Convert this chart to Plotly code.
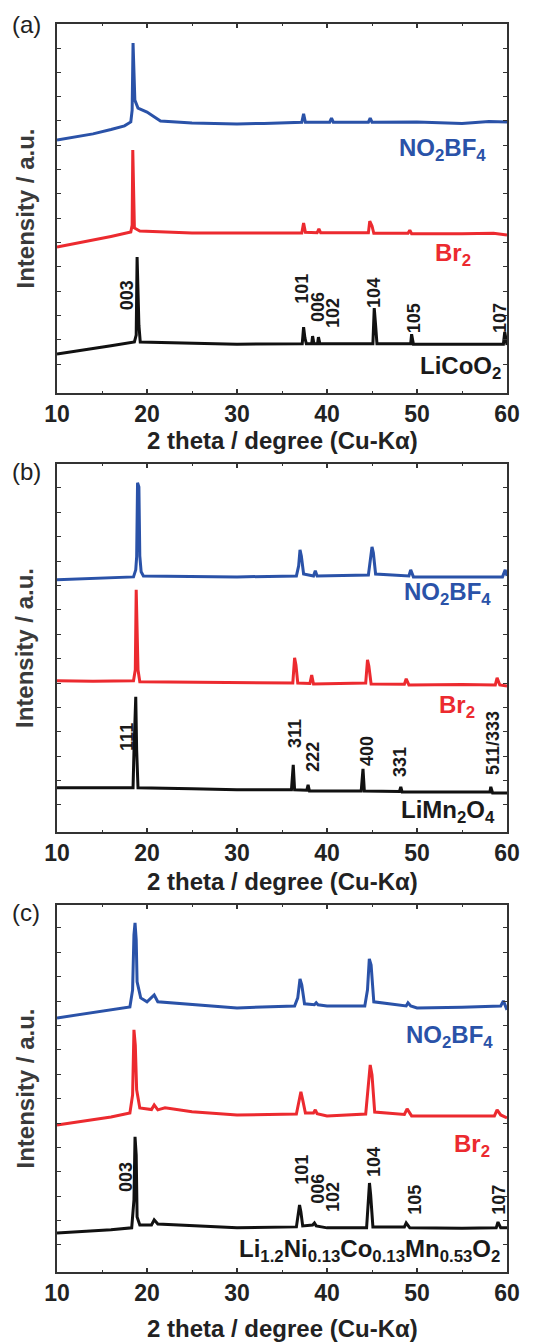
import plotly.graph_objects as go

# ---------------- data (2theta in degree, intensity in a.u. offset units) ----------------
# Panel (a): LiCoO2
a_blue_x = [10, 12, 14, 16, 17.5, 18.2, 18.35, 18.45, 18.55, 18.65, 19.0, 19.5, 20.0, 20.7, 21.5, 25, 30, 33, 37.2, 37.4, 37.6, 40.3, 40.5, 40.7, 44.6, 44.8, 45.0, 50, 55, 58, 60]
a_blue_y = [9.22, 9.35, 9.47, 9.65, 9.8, 9.96, 10.45, 13.21, 12.1, 10.86, 10.53, 10.45, 10.37, 10.2, 10.0, 9.92, 9.88, 9.9, 9.95, 10.29, 9.95, 9.95, 10.12, 9.95, 9.95, 10.12, 9.95, 9.96, 9.9, 9.98, 9.96]

a_red_x = [10, 12, 14, 16, 18.2, 18.35, 18.42, 18.5, 18.6, 19.2, 25, 30, 37.2, 37.4, 37.6, 38.9, 39.1, 39.3, 44.6, 44.75, 45.0, 45.2, 49.0, 49.2, 49.4, 55, 58.5, 60]
a_red_y = [4.81, 4.95, 5.10, 5.25, 5.43, 5.72, 8.81, 7.78, 5.60, 5.47, 5.39, 5.39, 5.39, 5.80, 5.42, 5.40, 5.56, 5.40, 5.40, 5.88, 5.68, 5.38, 5.38, 5.51, 5.36, 5.36, 5.38, 5.31]

a_black_x = [10, 12, 14, 16, 18.6, 18.8, 18.9, 19.0, 19.1, 19.25, 25, 30, 37.25, 37.4, 37.55, 37.7, 38.3, 38.4, 38.55, 38.95, 39.05, 39.2, 45.1, 45.25, 45.4, 45.55, 49.3, 49.4, 49.6, 59.6, 59.75, 60]
a_black_y = [0.41, 0.52, 0.62, 0.75, 0.91, 1.19, 4.40, 2.63, 1.60, 0.91, 0.86, 0.82, 0.84, 1.52, 1.07, 0.84, 0.84, 1.15, 0.84, 0.84, 1.11, 0.84, 0.84, 2.30, 1.60, 0.84, 0.84, 1.23, 0.82, 0.82, 1.32, 0.78]

a_hkl = ["003", "101", "006", "102", "104", "105", "107"]
a_hkl_x = [17.8, 37.2, 39.0, 40.67, 45.2, 49.67, 59.2]
a_hkl_y = [2.84, 3.09, 2.35, 2.10, 2.92, 1.89, 1.89]

# Panel (b): LiMn2O4
b_blue_x = [10, 14, 18.5, 18.75, 18.85, 18.95, 19.1, 19.2, 19.35, 19.6, 25, 30, 36.6, 36.85, 37.0, 37.15, 37.4, 38.5, 38.7, 38.9, 44.6, 44.85, 45.0, 45.15, 45.4, 49.1, 49.3, 49.6, 55, 59.5, 59.8, 60]
b_blue_y = [9.23, 9.28, 9.35, 9.64, 10.17, 13.21, 13.04, 10.21, 9.56, 9.39, 9.37, 9.35, 9.39, 9.80, 10.46, 10.21, 9.47, 9.39, 9.60, 9.39, 9.43, 10.05, 10.58, 10.34, 9.47, 9.39, 9.64, 9.35, 9.36, 9.35, 9.64, 9.39]

b_red_x = [10, 14, 18.5, 18.7, 18.8, 18.9, 19.0, 19.2, 25, 30, 36.2, 36.4, 36.55, 36.75, 38.1, 38.3, 38.5, 44.3, 44.5, 44.65, 44.9, 48.6, 48.8, 49.1, 55, 58.7, 58.9, 59.2, 60]
b_red_y = [5.09, 5.07, 5.09, 5.54, 8.82, 7.59, 5.54, 5.05, 5.03, 5.00, 5.00, 6.03, 5.74, 5.00, 4.98, 5.33, 4.96, 5.00, 5.95, 5.70, 4.96, 4.95, 5.17, 4.92, 4.94, 4.92, 5.21, 4.92, 4.88]

b_black_x = [10, 14, 18.45, 18.55, 18.75, 18.85, 19.0, 25, 30, 36.05, 36.15, 36.25, 36.4, 37.75, 37.9, 38.05, 43.8, 43.9, 44.0, 44.15, 48.05, 48.2, 48.35, 55, 58.1, 58.2, 58.4, 60]
b_black_y = [0.70, 0.70, 0.70, 2.17, 4.43, 2.26, 0.70, 0.66, 0.62, 0.62, 1.23, 1.64, 0.62, 0.60, 0.82, 0.57, 0.57, 1.23, 1.48, 0.57, 0.55, 0.74, 0.53, 0.53, 0.53, 0.74, 0.49, 0.49]

b_hkl = ["111", "311", "222", "400", "331", "511/333"]
b_hkl_x = [17.78, 36.44, 38.44, 44.44, 48.11, 58.44]
b_hkl_y = [2.79, 2.95, 1.97, 2.21, 1.76, 2.54]

# Panel (c): Li1.2Ni0.13Co0.13Mn0.53O2
c_blue_x = [10, 12, 14, 16, 18.1, 18.4, 18.55, 18.67, 18.8, 18.9, 19.3, 20.0, 20.8, 21.2, 23, 25, 30, 36.4, 36.75, 37.0, 37.2, 37.5, 38.6, 38.8, 39.0, 40, 44.2, 44.5, 44.7, 44.9, 45.2, 48.8, 49.0, 49.3, 50, 55, 59.3, 59.6, 60]
c_blue_y = [9.31, 9.42, 9.52, 9.62, 9.76, 10.46, 12.72, 13.21, 12.51, 10.79, 10.13, 9.97, 10.25, 9.97, 9.92, 9.84, 9.72, 9.80, 10.13, 10.91, 10.66, 9.89, 9.85, 9.93, 9.85, 9.80, 9.80, 10.46, 11.73, 11.48, 9.97, 9.80, 9.93, 9.80, 9.72, 9.75, 9.80, 10.01, 9.64]

c_red_x = [10, 12, 14, 16, 18.1, 18.4, 18.55, 18.7, 18.85, 19.2, 20.5, 20.8, 21.2, 22, 25, 30, 36.6, 36.9, 37.1, 37.3, 37.6, 38.5, 38.7, 38.9, 40, 44.3, 44.6, 44.8, 45.0, 45.3, 48.6, 48.9, 49.4, 55, 58.6, 58.9, 59.3, 60]
c_red_y = [4.92, 5.02, 5.13, 5.25, 5.41, 6.15, 8.82, 8.20, 6.36, 5.62, 5.55, 5.74, 5.54, 5.62, 5.46, 5.33, 5.37, 5.95, 6.28, 5.95, 5.41, 5.41, 5.54, 5.38, 5.29, 5.37, 6.56, 7.38, 6.97, 5.45, 5.35, 5.58, 5.29, 5.28, 5.29, 5.54, 5.33, 5.21]

c_black_x = [10, 12, 14, 16, 18.3, 18.55, 18.67, 18.8, 18.9, 19.2, 20.5, 20.8, 21.2, 25, 30, 36.6, 36.8, 36.95, 37.1, 37.3, 38.4, 38.6, 38.8, 40, 44.4, 44.6, 44.72, 44.85, 45.1, 48.6, 48.8, 49.2, 55, 58.8, 59.0, 59.3, 60]
c_black_y = [0.49, 0.53, 0.57, 0.62, 0.70, 1.85, 4.43, 3.69, 1.15, 0.82, 0.82, 1.03, 0.86, 0.78, 0.70, 0.74, 1.23, 1.64, 1.35, 0.78, 0.82, 0.90, 0.78, 0.70, 0.70, 1.85, 2.54, 2.05, 0.74, 0.74, 0.90, 0.70, 0.68, 0.70, 0.94, 0.70, 0.70]

c_hkl = ["003", "101", "006", "102", "104", "105", "107"]
c_hkl_x = [17.67, 37.22, 39.0, 40.67, 45.22, 49.78, 59.11]
c_hkl_y = [2.79, 3.08, 2.30, 1.97, 3.40, 1.85, 1.85]

series_names = ["NO<sub>2</sub>BF<sub>4</sub>", "Br<sub>2</sub>"]
sample_names = ["LiCoO<sub>2</sub>", "LiMn<sub>2</sub>O<sub>4</sub>",
                "Li<sub>1.2</sub>Ni<sub>0.13</sub>Co<sub>0.13</sub>Mn<sub>0.53</sub>O<sub>2</sub>"]
panel_tags = ["(a)", "(b)", "(c)"]
x_ticks = [10, 20, 30, 40, 50, 60]
y_ticks = list(range(0, 14))

# label anchors (x = right edge in 2theta, y = centre in a.u.)
name_x = [[57.9, 56.2, 59.6], [58.4, 56.7, 58.9], [58.7, 58.3, 59.4]]
name_y = [[8.81, 4.49, -0.16], [8.65, 4.02, -0.25], [8.53, 4.06, -0.21]]

# ---------------- styling / layout ----------------
W, H = 536, 1343
BLUE = "#2a52a8"
RED = "#ec2a2f"
BLACK = "#111111"
AX = "#333333"
FONT = "Liberation Sans, Arial, sans-serif"

x_left, x_right = 57, 507
panels_px = [(24, 393), (464, 832), (905, 1272)]
y_ranges = [[-1.19, 13.99], [-1.11, 13.98], [-1.11, 13.94]]
xtitle_px = [441, 881, 1328]
tag_px = [25, 471, 912]

panel_data = [
    (a_blue_x, a_blue_y, a_red_x, a_red_y, a_black_x, a_black_y, a_hkl, a_hkl_x, a_hkl_y),
    (b_blue_x, b_blue_y, b_red_x, b_red_y, b_black_x, b_black_y, b_hkl, b_hkl_x, b_hkl_y),
    (c_blue_x, c_blue_y, c_red_x, c_red_y, c_black_x, c_black_y, c_hkl, c_hkl_x, c_hkl_y),
]

fig = go.Figure()
annotations = []
layout = {}
for i, (bx, by, rx, ry, kx, ky, hkl, hx, hy) in enumerate(panel_data):
    n = "" if i == 0 else str(i + 1)
    xa, ya = "x" + n, "y" + n
    for xs, ys, col in [(bx, by, BLUE), (rx, ry, RED), (kx, ky, BLACK)]:
        fig.add_trace(go.Scatter(x=xs, y=ys, mode="lines", xaxis=xa, yaxis=ya,
                                 line=dict(color=col, width=3), showlegend=False,
                                 hoverinfo="skip"))
    top, bot = panels_px[i]
    layout["xaxis" + n] = dict(
        domain=[x_left / W, x_right / W], range=[10, 60], anchor=ya, automargin=False,
        tickvals=x_ticks, ticks="inside", ticklen=4, tickwidth=1.5, tickcolor=AX,
        minor=dict(dtick=5, ticks="inside", ticklen=2.5, tickwidth=1.2, tickcolor=AX),
        showline=True, linewidth=1.6, linecolor=AX, mirror="ticks",
        showgrid=False, zeroline=False,
        tickfont=dict(family=FONT, size=23, color="#222222", weight="bold"),
    )
    layout["yaxis" + n] = dict(
        domain=[1 - bot / H, 1 - top / H], range=y_ranges[i], anchor=xa, automargin=False,
        tickvals=y_ticks, ticks="inside", ticklen=4, tickwidth=1.2, tickcolor=AX,
        showticklabels=False, showline=True, linewidth=1.6, linecolor=AX,
        mirror="ticks", showgrid=False, zeroline=False,
    )
    # hkl labels
    for t, x0, y0 in zip(hkl, hx, hy):
        annotations.append(dict(x=x0, y=y0, xref=xa, yref=ya, text=t, showarrow=False,
                                textangle=-90, xanchor="center", yanchor="middle",
                                font=dict(family=FONT, size=18, color="#1a1a1a", weight="bold")))
    # sample names
    names = series_names + [sample_names[i]]
    cols = [BLUE, RED, "#1a1a1a"]
    for t, x0, y0, c in zip(names, name_x[i], name_y[i], cols):
        annotations.append(dict(x=x0, y=y0, xref=xa, yref=ya, text=t, showarrow=False,
                                xanchor="right", yanchor="middle",
                                font=dict(family=FONT, size=24, color=c, weight="bold")))
    # x axis title
    annotations.append(dict(x=(x_left + x_right) / 2 / W, y=1 - xtitle_px[i] / H,
                            xref="paper", yref="paper", text="2 theta / degree (Cu-K\u03b1)",
                            showarrow=False, xanchor="center", yanchor="middle",
                            font=dict(family=FONT, size=24, color="#222222", weight="bold")))
    # y axis title
    annotations.append(dict(x=25 / W, y=1 - (top + bot) / 2 / H, xref="paper", yref="paper",
                            text="Intensity / a.u.", showarrow=False, textangle=-90,
                            xanchor="center", yanchor="middle",
                            font=dict(family=FONT, size=24, color="#3a3a3a", weight="bold")))
    # panel tag
    annotations.append(dict(x=26 / W, y=1 - tag_px[i] / H, xref="paper", yref="paper",
                            text=panel_tags[i], showarrow=False, xanchor="center",
                            yanchor="middle",
                            font=dict(family=FONT, size=24, color="#222222")))

fig.update_layout(width=W, height=H, margin=dict(l=0, r=0, t=0, b=0),
                  paper_bgcolor="white", plot_bgcolor="white",
                  annotations=annotations, **layout)
fig.write_html("out.html", config={"displayModeBar": False},
               post_script="document.body.style.margin='0';document.body.style.padding='0';")
